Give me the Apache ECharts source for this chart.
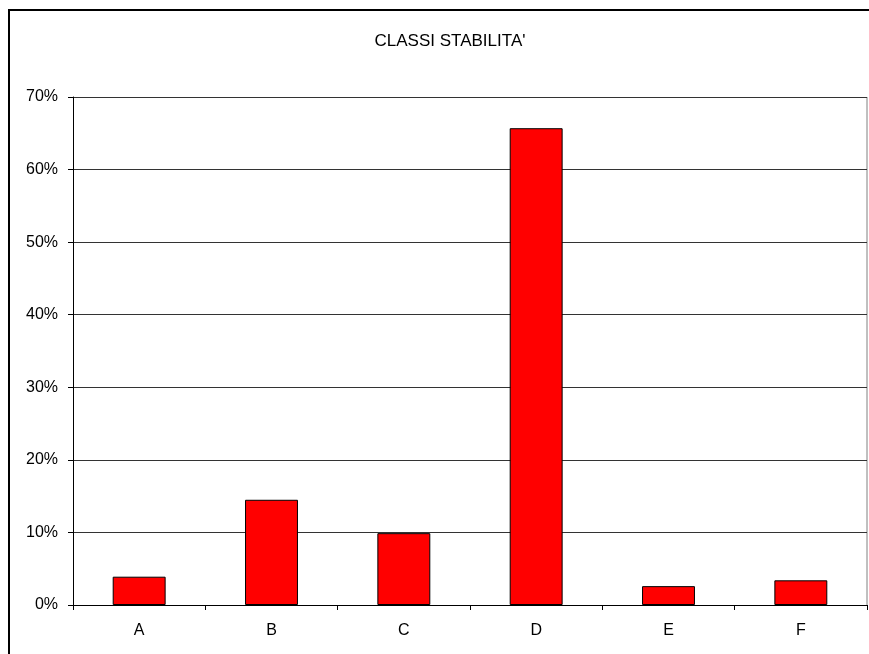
<!DOCTYPE html>
<html>
<head>
<meta charset="utf-8">
<script src="https://cdn.jsdelivr.net/npm/echarts@6/dist/echarts.min.js"></script>
<style>
  html, body { margin: 0; padding: 0; background: #fff; }
  #chart { width: 869px; height: 654px; }
</style>
</head>
<body>
<div id="chart"></div>
<script>
const categories = ['A', 'B', 'C', 'D', 'E', 'F']
const percentages = [3.9, 14.5, 9.9, 65.7, 2.6, 3.4]
const yTicks = { min: 0, max: 70, interval: 10 }

const chart = echarts.init(document.getElementById('chart'))

const option = {
  animation: false,
  backgroundColor: '#fff',
  textStyle: { fontFamily: 'Liberation Sans, Arial, sans-serif' },
  title: {
    text: "CLASSI STABILITA'",
    left: 445,
    top: 28,
    textAlign: 'center',
    textStyle: { fontSize: 17, fontWeight: 'normal', color: '#000' }
  },
  graphic: [
    {
      type: 'rect',
      shape: { x: 9, y: 10, width: 900, height: 700 },
      style: { fill: 'none', stroke: '#000', lineWidth: 2 },
      silent: true
    },
    {
      type: 'line',
      shape: { x1: 867, y1: 97, x2: 867, y2: 605 },
      style: { stroke: '#808080', lineWidth: 1 },
      silent: true
    }
  ],
  grid: { left: 73, right: 2, top: 97, bottom: 49, containLabel: false },
  xAxis: {
    type: 'category',
    data: categories,
    axisLine: { show: true, lineStyle: { color: '#000', width: 1 } },
    axisTick: { show: true, length: 5, lineStyle: { color: '#000' } },
    axisLabel: { color: '#000', fontSize: 16, margin: 18 },
    splitLine: { show: false }
  },
  yAxis: {
    type: 'value',
    min: yTicks.min,
    max: yTicks.max,
    interval: yTicks.interval,
    axisLine: { show: true, lineStyle: { color: '#000', width: 1 } },
    axisTick: { show: true, length: 5, lineStyle: { color: '#000' } },
    axisLabel: { color: '#000', fontSize: 16, margin: 15, formatter: v => v + '%' },
    splitLine: { show: true, lineStyle: { color: '#333', width: 1 } }
  },
  series: [
    {
      type: 'bar',
      data: percentages,
      barCategoryGap: '60%',
      itemStyle: { color: '#ff0000', borderColor: '#000', borderWidth: 1 }
    }
  ]
}

chart.setOption(option)
</script>
</body>
</html>
